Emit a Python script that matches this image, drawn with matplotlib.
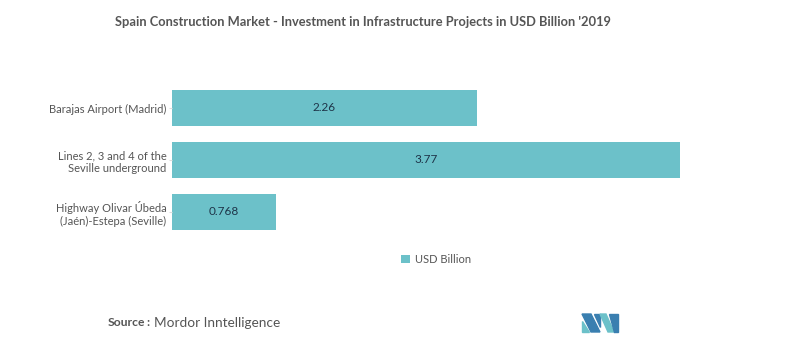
import matplotlib
matplotlib.use("Agg")
import matplotlib.pyplot as plt
from matplotlib.patches import Polygon

categories = ["Barajas Airport (Madrid)",
              "Lines 2, 3 and 4 of the\nSeville underground",
              "Highway Olivar Úbeda\n(Jaén)-Estepa (Seville)"]
values = [2.26, 3.77, 0.768]
value_labels = ["2.26", "3.77", "0.768"]
series_name = "USD Billion"

plt.rcParams['font.family'] = ['Lato', 'DejaVu Sans']
bar_color = "#6cc1c9"
text_gray = "#555555"

fig = plt.figure(figsize=(8, 3.56), dpi=100)
ax = fig.add_axes([0.215, 0.3315, 0.674, 0.4382])
ypos = list(range(len(categories)))
bars = ax.barh(ypos, values, height=0.69, color=bar_color, label=series_name)
ax.set_ylim(2.5, -0.5)
ax.set_xlim(0, 4)
ax.set_yticks(ypos)
ax.set_yticklabels(categories, fontsize=8, color=text_gray, ha='right', linespacing=1.25)
ax.tick_params(axis='y', length=2, color="#dddddd", pad=2)
ax.set_xticks([])
for s in ax.spines.values():
    s.set_visible(False)
for b, lab in zip(bars, value_labels):
    ax.text(b.get_width() / 2, b.get_y() + b.get_height() / 2, lab,
            ha='center', va='center', fontsize=8.5, color="#1e3448")

fig.text(0.454, 0.938, "Spain Construction Market - Investment in Infrastructure Projects in USD Billion '2019",
         ha='center', va='center', fontsize=9.3, fontweight='bold', color=text_gray)

leg = fig.legend(handles=[bars], labels=[series_name], loc='center', bbox_to_anchor=(0.545, 0.272),
                 frameon=False, fontsize=8, handlelength=0.8, handleheight=0.8, handletextpad=0.4)
for t in leg.get_texts():
    t.set_color(text_gray)

fig.text(0.135, 0.093, "Source", ha='left', va='center', fontsize=8.7, fontweight='bold', color=text_gray)
fig.text(0.1825, 0.093, ":", ha='left', va='center', fontsize=8.7, fontweight='bold', color=text_gray)
fig.text(0.192, 0.093, "Mordor Inntelligence", ha='left', va='center', fontsize=9.8, color=text_gray)

# logo
W, H = 800, 356
def P(pts, c):
    fig.patches.append(Polygon([(x / W, 1 - y / H) for x, y in pts], closed=True,
                               transform=fig.transFigure, color=c))
dark, light = "#3a7fb0", "#6cc1c9"
P([(582, 321), (582, 332), (589, 332)], light)
P([(582, 314), (591, 314), (600, 332), (591, 332)], dark)
P([(594, 314), (600, 314), (600, 327)], dark)
P([(600, 314), (606, 314), (614, 332), (608, 332)], light)
P([(609, 314), (618, 314), (618, 332), (614, 332)], dark)

fig.savefig("out.png", dpi=100, facecolor="white")
